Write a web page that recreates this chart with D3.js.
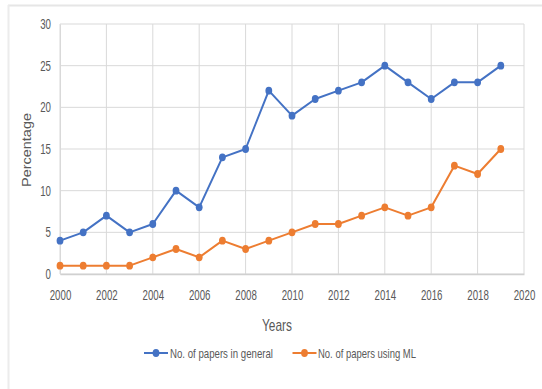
<!DOCTYPE html>
<html>
<head>
<meta charset="utf-8">
<script src="https://cdn.jsdelivr.net/npm/d3@7"></script>
<style>
  html, body { margin: 0; padding: 0; background: #fff; }
  svg { display: block; }
  .tick text { font-family: "Liberation Sans Narrow", "Arial Narrow", "Liberation Sans", sans-serif; font-size: 14px; fill: #595959; }
</style>
</head>
<body>
<svg id="chart" width="542" height="389"></svg>
<script>
// Publication years and the two series (percentage of papers)
const years = [2000, 2001, 2002, 2003, 2004, 2005, 2006, 2007, 2008, 2009,
               2010, 2011, 2012, 2013, 2014, 2015, 2016, 2017, 2018, 2019];
const papersGeneral = [4, 5, 7, 5, 6, 10, 8, 14, 15, 22, 19, 21, 22, 23, 25, 23, 21, 23, 23, 25];
const papersML      = [1, 1, 1, 1, 2, 3, 2, 4, 3, 4, 5, 6, 6, 7, 8, 7, 8, 13, 12, 15];
const xTicks = [2000, 2002, 2004, 2006, 2008, 2010, 2012, 2014, 2016, 2018, 2020];
const yTicks = [0, 5, 10, 15, 20, 25, 30];
const seriesNames = ["No. of papers in general", "No. of papers using ML"];
const seriesColors = ["#4472C4", "#ED7D31"];

const svg = d3.select("#chart");
const W = 542, H = 389;
const plot = { left: 60, right: 524, top: 24, bottom: 274 };
const narrow = "'Liberation Sans Narrow', 'Arial Narrow', 'Liberation Sans', sans-serif";
const charW = 5.4; // condensed digit width

// outer frame (top and left edges visible)
svg.append("line").attr("x1", 8).attr("x2", W).attr("y1", 5.5).attr("y2", 5.5)
  .attr("stroke", "#e6e6e6").attr("stroke-width", 2);
svg.append("line").attr("x1", 8.5).attr("x2", 8.5).attr("y1", 5).attr("y2", H)
  .attr("stroke", "#ececec").attr("stroke-width", 2);

const x = d3.scaleLinear().domain([2000, 2020]).range([plot.left, plot.right]);
const y = d3.scaleLinear().domain([0, 30]).range([plot.bottom, plot.top]);

// gridlines
const grid = svg.append("g");
grid.selectAll("line.v").data(xTicks).join("line")
  .attr("x1", d => x(d)).attr("x2", d => x(d))
  .attr("y1", plot.top).attr("y2", plot.bottom)
  .attr("stroke", "#d9d9d9").attr("stroke-width", 1);
grid.selectAll("line.h").data(yTicks).join("line")
  .attr("x1", plot.left).attr("x2", plot.right)
  .attr("y1", d => y(d)).attr("y2", d => y(d))
  .attr("stroke", "#d9d9d9").attr("stroke-width", 1);

// axes
const xAxis = svg.append("g").attr("transform", `translate(0,${plot.bottom})`)
  .call(d3.axisBottom(x).tickValues(xTicks).tickFormat(d3.format("d")).tickSize(0).tickPadding(16));
xAxis.select(".domain").attr("stroke", "#d0d0d0").attr("stroke-width", 1.5);

const yAxis = svg.append("g").attr("transform", `translate(${plot.left},0)`)
  .call(d3.axisLeft(y).tickValues(yTicks).tickSize(0).tickPadding(9));
yAxis.select(".domain").attr("stroke", "#d9d9d9");

// condense tick labels horizontally (scale about the anchor point)
svg.selectAll(".tick text").each(function () {
  const t = d3.select(this);
  const natural = this.getComputedTextLength();
  const sx = (t.text().length * charW) / natural;
  const ax = +t.attr("x") || 0;
  t.attr("x", ax / sx).attr("transform", `scale(${sx},1)`);
});

// axis titles
svg.append("text").attr("x", 277).attr("y", 331).attr("text-anchor", "middle")
  .attr("font-family", narrow).attr("font-size", 17).attr("fill", "#595959")
  .attr("textLength", 30).attr("lengthAdjust", "spacingAndGlyphs").text("Years");
svg.append("text").attr("transform", "translate(31,150) rotate(-90)").attr("text-anchor", "middle")
  .attr("font-family", "'Liberation Sans', Arial, sans-serif")
  .attr("font-size", 13).attr("fill", "#595959")
  .attr("textLength", 74).attr("lengthAdjust", "spacingAndGlyphs").text("Percentage");

// series lines and markers
const series = [papersGeneral, papersML];
const line = d3.line().x((d, i) => x(years[i])).y(d => y(d));
series.forEach((vals, s) => {
  svg.append("path").datum(vals).attr("d", line)
    .attr("fill", "none").attr("stroke", seriesColors[s]).attr("stroke-width", 2)
    .attr("stroke-linejoin", "round");
  svg.append("g").selectAll("ellipse").data(vals).join("ellipse")
    .attr("cx", (d, i) => x(years[i])).attr("cy", d => y(d)).attr("rx", 3.4).attr("ry", 3.9)
    .attr("fill", seriesColors[s]);
});

// legend
const legendItems = [
  { x0: 144, tx: 170, w: 103 },
  { x0: 292.5, tx: 318, w: 98 }
];
legendItems.forEach((it, s) => {
  const g = svg.append("g");
  g.append("line").attr("x1", it.x0).attr("x2", it.x0 + 24).attr("y1", 353).attr("y2", 353)
    .attr("stroke", seriesColors[s]).attr("stroke-width", 2);
  g.append("ellipse").attr("cx", it.x0 + 12).attr("cy", 353).attr("rx", 3.4).attr("ry", 3.9)
    .attr("fill", seriesColors[s]);
  g.append("text").attr("x", it.tx).attr("y", 358)
    .attr("font-family", narrow).attr("font-size", 13.5).attr("fill", "#595959")
    .attr("textLength", it.w).attr("lengthAdjust", "spacingAndGlyphs")
    .text(seriesNames[s]);
});
</script>
</body>
</html>
